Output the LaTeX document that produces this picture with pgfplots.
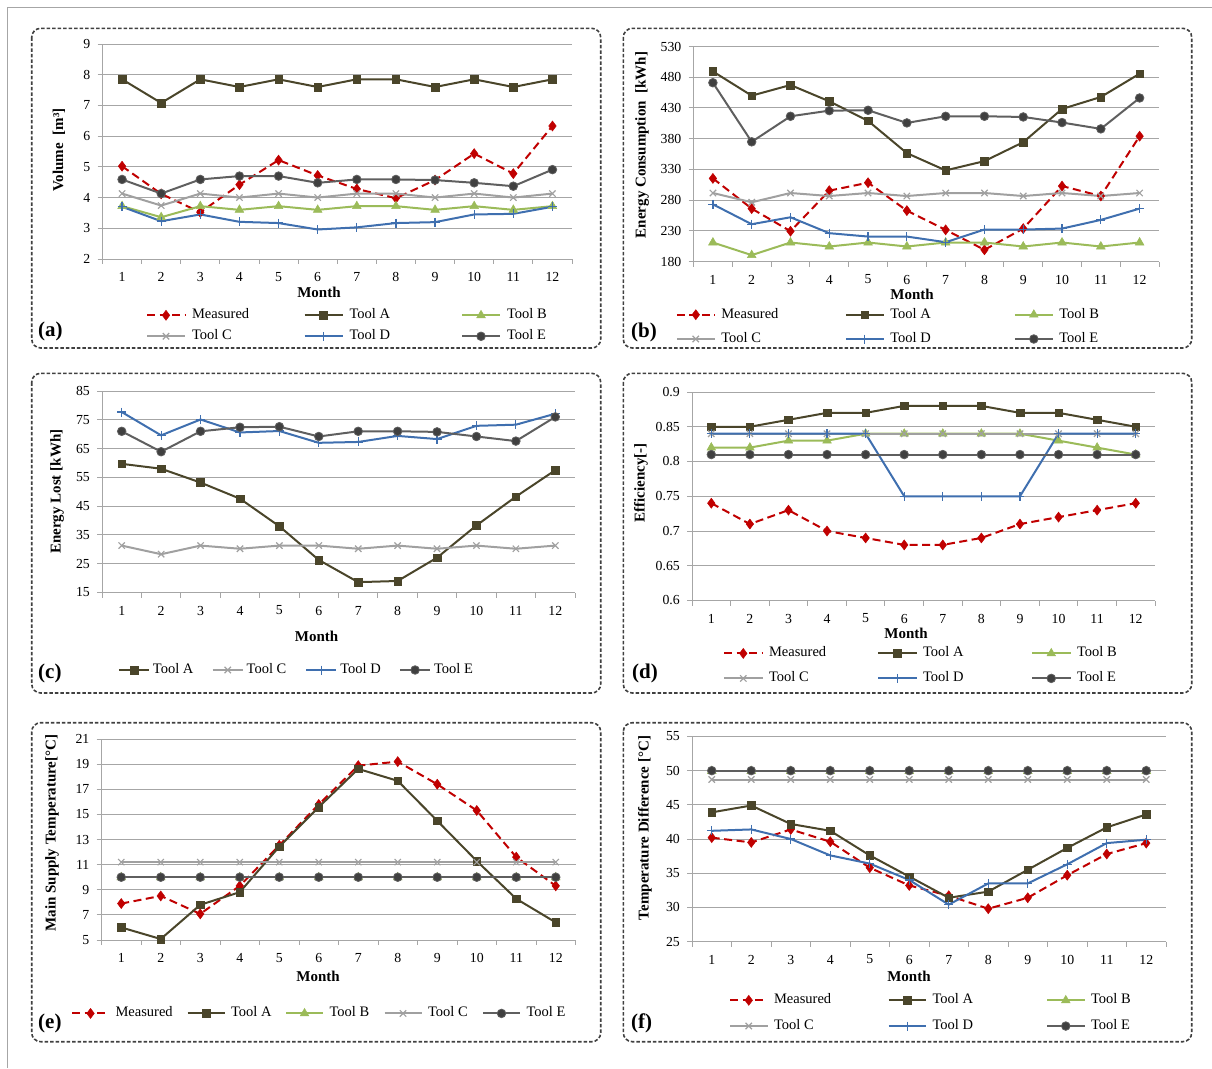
\documentclass[border=0pt]{standalone}
\usepackage{pgfplots}
\pgfplotsset{compat=1.18}
\usepackage{fontspec}
\setmainfont{Liberation Serif}
\definecolor{cMeas}{HTML}{C00000}
\definecolor{cA}{HTML}{4A452A}
\definecolor{cB}{HTML}{9BBB59}
\definecolor{cC}{HTML}{A0A0A0}
\definecolor{cD}{HTML}{3F6FAF}
\definecolor{cE}{HTML}{5F5F5F}
\definecolor{cEf}{HTML}{404040}
\definecolor{gridc}{HTML}{A6A6A6}
\definecolor{framec}{HTML}{404040}
\newcommand{\lb}[2]{\makebox[#1pt][l]{#2}}
\tikzset{
 pframe/.style={draw=framec, line width=1.6pt, dash pattern=on 3.5pt off 2pt, rounded corners=9pt},
 plab/.style={anchor=west, inner sep=0pt, font=\bfseries\fontsize{21}{24}\selectfont},
}
\pgfplotsset{
 meas/.style={color=cMeas, line width=2pt, dash pattern=on 8pt off 4.5pt, mark=diamond*, mark size=5pt, mark options={solid, fill=cMeas, draw=cMeas, line width=0.5pt}},
 toolA/.style={color=cA, line width=2pt, mark=square*, mark size=3.8pt, mark options={solid, fill=cA, draw=cA, line width=0.5pt}},
 toolB/.style={color=cB, line width=2pt, mark=triangle*, mark size=5pt, mark options={solid, fill=cB, draw=cB, line width=0.5pt}},
 toolC/.style={color=cC, line width=2pt, mark=x, mark size=4.5pt, mark options={solid, line width=1.2pt}},
 toolD/.style={color=cD, line width=2pt, mark=+, mark size=4.5pt, mark options={solid, line width=1.2pt}},
 toolE/.style={color=cE, line width=2pt, mark=*, mark size=4.3pt, mark options={solid, fill=cEf, draw=cE, line width=0.8pt}},
 limg/.style={legend image code/.code={\draw[mark repeat=2,mark phase=2,##1] plot coordinates {(0pt,0pt) (#1pt,0pt) (2*#1pt,0pt)};}},
 panel/.style={
  scale only axis, anchor=north west, clip=false,
  xmin=0.5, xmax=12.5, xtick={1,...,12}, minor xtick={0.5,1.5,...,12.5},
  axis x line*=bottom, axis y line*=left,
  axis line style={draw=gridc, line width=0.9pt, -},
  ymajorgrids, grid style={draw=gridc, line width=0.9pt},
  tick align=outside, major tick length=5pt, minor tick length=5pt,
  tick style={draw=gridc, line width=0.9pt},
  major x tick style={draw=none},
  tick label style={font=\fontsize{13.8}{16}\selectfont, text=black},
  xticklabel style={anchor=center, inner sep=0pt, yshift=-13pt},
  yticklabel style={anchor=east, inner sep=0pt, xshift=-7pt},
  /pgf/number format/assume math mode=true,
  xlabel style={anchor=center, inner sep=0pt, font=\bfseries\fontsize{15}{18}\selectfont},
  ylabel style={anchor=center, inner sep=0pt, font=\bfseries\fontsize{15}{18}\selectfont},
  legend style={draw=none, fill=none, inner sep=0pt, outer sep=0pt, anchor=west,
    font=\fontsize{14.5}{17}\selectfont,
    nodes={inner sep=0pt, text height=10pt, text depth=3pt}},
  legend cell align=left,
 },
}
\begin{document}
\begin{tikzpicture}
\path[use as bounding box] (0,0) rectangle (1212pt,-1068pt);
\draw[gridc, line width=1pt] (7pt,-1068pt) -- (7pt,-7pt) -- (1212pt,-7pt);

% (a)
\begin{axis}[panel, at={(102.5pt,-44pt)}, width=469.5pt, height=215pt,
 ymin=2, ymax=9, ytick={2,...,9},
 xlabel={Month}, xlabel style={at={(axis description cs:0.4611,-0.1535)}},
 ylabel={Volume\ \ [m³]}, ylabel style={at={(axis description cs:-0.0927,0.507)}},
 limg=19, legend columns=3,
 legend style={at={(0.0927,-0.3107)}, row sep=8pt, /tikz/every odd column/.append style={column sep=6pt}},
]
\addplot[meas] coordinates {(1,5.02) (2,4.12) (3,3.52) (4,4.42) (5,5.22) (6,4.72) (7,4.28) (8,3.98) (9,4.57) (10,5.43) (11,4.78) (12,6.33)};
\addplot[toolA] coordinates {(1,7.85) (2,7.08) (3,7.85) (4,7.6) (5,7.85) (6,7.6) (7,7.85) (8,7.85) (9,7.6) (10,7.85) (11,7.6) (12,7.85)};
\addplot[toolB] coordinates {(1,3.72) (2,3.36) (3,3.72) (4,3.6) (5,3.72) (6,3.6) (7,3.72) (8,3.72) (9,3.6) (10,3.72) (11,3.6) (12,3.72)};
\addplot[toolC] coordinates {(1,4.13) (2,3.74) (3,4.13) (4,4.0) (5,4.13) (6,4.0) (7,4.13) (8,4.13) (9,4.0) (10,4.13) (11,4.0) (12,4.13)};
\addplot[toolD] coordinates {(1,3.7) (2,3.23) (3,3.45) (4,3.21) (5,3.17) (6,2.96) (7,3.03) (8,3.17) (9,3.2) (10,3.45) (11,3.47) (12,3.7)};
\addplot[toolE] coordinates {(1,4.59) (2,4.13) (3,4.59) (4,4.7) (5,4.7) (6,4.48) (7,4.59) (8,4.59) (9,4.57) (10,4.48) (11,4.37) (12,4.91)};
\legend{\lb{111.5}{Measured},\lb{111.5}{Tool A},\lb{111.5}{Tool B},\lb{111.5}{Tool C},\lb{111.5}{Tool D},\lb{111.5}{Tool E}}
\end{axis}

% (b)
\begin{axis}[panel, at={(693.5pt,-46.5pt)}, width=465.5pt, height=215pt,
 ymin=180, ymax=530, ytick={180,230,...,530},
 xlabel={Month}, xlabel style={at={(axis description cs:0.4694,-0.1512)}},
 ylabel={Energy Consumption\ \ [kWh]}, ylabel style={at={(axis description cs:-0.1106,0.5419)}},
 limg=19, legend columns=3,
 legend style={at={(-0.038,-0.304)}, row sep=11.3pt, /tikz/every odd column/.append style={column sep=5.5pt}},
]
\addplot[meas] coordinates {(1,315.3) (2,266.1) (3,229.3) (4,295.3) (5,308.3) (6,262.8) (7,231.5) (8,199) (9,233.6) (10,302.8) (11,286.6) (12,384)};
\addplot[toolA] coordinates {(1,489.4) (2,450) (3,467.3) (4,440.8) (5,408.9) (6,356.4) (7,328.3) (8,343.4) (9,374.2) (10,428.3) (11,447.8) (12,485.7)};
\addplot[toolB] coordinates {(1,210.9) (2,190.4) (3,210.9) (4,204.4) (5,210.9) (6,204.4) (7,210.9) (8,210.9) (9,204.4) (10,210.9) (11,204.4) (12,210.9)};
\addplot[toolC] coordinates {(1,291.5) (2,276.4) (3,291.5) (4,286.6) (5,291.5) (6,286.6) (7,291.5) (8,291.5) (9,286.6) (10,291.5) (11,286.6) (12,291.5)};
\addplot[toolD] coordinates {(1,273.1) (2,240.7) (3,252) (4,226.1) (5,220.6) (6,220.6) (7,211.4) (8,232) (9,232) (10,233.6) (11,247.7) (12,266.1)};
\addplot[toolE] coordinates {(1,471) (2,374.8) (3,416.4) (4,425.6) (5,426.2) (6,405.6) (7,416.4) (8,416.4) (9,415.3) (10,406.2) (11,395.9) (12,446.2)};
\legend{\lb{123.5}{Measured},\lb{123.5}{Tool A},\lb{123.5}{Tool B},\lb{123.5}{Tool C},\lb{123.5}{Tool D},\lb{123.5}{Tool E}}
\end{axis}

% (c)
\begin{axis}[panel, at={(102pt,-391pt)}, width=473pt, height=201.5pt,
 ymin=15, ymax=85, ytick={15,25,...,85},
 xlabel={Month}, xlabel style={at={(axis description cs:0.4535,-0.2194)}},
 ylabel={Energy Lost [kWh]}, ylabel style={at={(axis description cs:-0.0951,0.5003)}},
 limg=15, legend columns=4,
 legend style={at={(0.0338,-0.3846)}, /tikz/every odd column/.append style={column sep=3pt}},
]
\addplot[toolA] coordinates {(1,59.7) (2,58) (3,53.2) (4,47.6) (5,38) (6,26.3) (7,18.6) (8,19) (9,27.1) (10,38.3) (11,48.3) (12,57.5)};
\addplot[toolC] coordinates {(1,31.3) (2,28.3) (3,31.3) (4,30.2) (5,31.3) (6,31.3) (7,30.2) (8,31.3) (9,30.2) (10,31.3) (11,30.2) (12,31.3)};
\addplot[toolD] coordinates {(1,77.7) (2,69.6) (3,75.1) (4,70.6) (5,71.1) (6,67) (7,67.3) (8,69.4) (9,68.3) (10,72.9) (11,73.3) (12,77.1)};
\addplot[toolE] coordinates {(1,71) (2,63.9) (3,71) (4,72.4) (5,72.6) (6,69.2) (7,71) (8,71) (9,70.8) (10,69.2) (11,67.6) (12,76)};
\legend{\lb{58.7}{Tool A},\lb{58.7}{Tool C},\lb{58.7}{Tool D},\lb{58.7}{Tool E}}
\end{axis}

% (d)
\begin{axis}[panel, at={(692pt,-392pt)}, width=463pt, height=208.5pt,
 ymin=0.6, ymax=0.9, ytick={0.6,0.65,0.7,0.75,0.8,0.85,0.9},
 yticklabels={0.6,0.65,0.7,0.75,0.8,0.85,0.9},
 xlabel={Month}, xlabel style={at={(axis description cs:0.4622,-0.1559)}},
 ylabel={Efficiency[-]}, ylabel style={at={(axis description cs:-0.1102,0.5635)}},
 limg=19.25, legend columns=3,
 legend style={at={(0.067,-0.3137)}, row sep=12pt, /tikz/every odd column/.append style={column sep=5.5pt}},
]
\addplot[meas] coordinates {(1,0.74) (2,0.71) (3,0.73) (4,0.70) (5,0.69) (6,0.68) (7,0.68) (8,0.69) (9,0.71) (10,0.72) (11,0.73) (12,0.74)};
\addplot[toolA] coordinates {(1,0.85) (2,0.85) (3,0.86) (4,0.87) (5,0.87) (6,0.88) (7,0.88) (8,0.88) (9,0.87) (10,0.87) (11,0.86) (12,0.85)};
\addplot[toolB] coordinates {(1,0.82) (2,0.82) (3,0.83) (4,0.83) (5,0.84) (6,0.84) (7,0.84) (8,0.84) (9,0.84) (10,0.83) (11,0.82) (12,0.81)};
\addplot[toolC] coordinates {(1,0.84) (2,0.84) (3,0.84) (4,0.84) (5,0.84) (6,0.84) (7,0.84) (8,0.84) (9,0.84) (10,0.84) (11,0.84) (12,0.84)};
\addplot[toolD] coordinates {(1,0.84) (2,0.84) (3,0.84) (4,0.84) (5,0.84) (6,0.75) (7,0.75) (8,0.75) (9,0.75) (10,0.84) (11,0.84) (12,0.84)};
\addplot[toolE] coordinates {(1,0.81) (2,0.81) (3,0.81) (4,0.81) (5,0.81) (6,0.81) (7,0.81) (8,0.81) (9,0.81) (10,0.81) (11,0.81) (12,0.81)};
\legend{\lb{108}{Measured},\lb{108}{Tool A},\lb{108}{Tool B},\lb{108}{Tool C},\lb{108}{Tool D},\lb{108}{Tool E}}
\end{axis}

% (e)
\begin{axis}[panel, at={(101.5pt,-739pt)}, width=474pt, height=201pt,
 ymin=5, ymax=21, ytick={5,7,...,21},
 xlabel={Month}, xlabel style={at={(axis description cs:0.4568,-0.1826)}},
 ylabel={Main Supply Temperature[°C]}, ylabel style={at={(axis description cs:-0.1044,0.5323)}},
 limg=18.5, legend columns=5,
 legend style={at={(-0.0643,-0.3652)}, /tikz/every odd column/.append style={column sep=5.5pt}},
]
\addplot[meas] coordinates {(1,7.9) (2,8.51) (3,7.08) (4,9.31) (5,12.54) (6,15.79) (7,18.88) (8,19.2) (9,17.4) (10,15.31) (11,11.6) (12,9.31)};
\addplot[toolA] coordinates {(1,6.0) (2,5.08) (3,7.8) (4,8.81) (5,12.43) (6,15.58) (7,18.62) (8,17.67) (9,14.49) (10,11.29) (11,8.28) (12,6.4)};
\addplot[toolB] coordinates {(1,9.99) (2,9.99) (3,9.99) (4,9.99) (5,9.99) (6,9.99) (7,9.99) (8,9.99) (9,9.99) (10,9.99) (11,9.99) (12,9.99)};
\addplot[toolC] coordinates {(1,11.2) (2,11.2) (3,11.2) (4,11.2) (5,11.2) (6,11.2) (7,11.2) (8,11.2) (9,11.2) (10,11.2) (11,11.2) (12,11.2)};
\addplot[toolE] coordinates {(1,10) (2,10) (3,10) (4,10) (5,10) (6,10) (7,10) (8,10) (9,10) (10,10) (11,10) (12,10)};
\legend{\lb{71}{Measured},\lb{54}{Tool A},\lb{54}{Tool B},\lb{54}{Tool C},Tool E}
\end{axis}

% (f)
\begin{axis}[panel, at={(692pt,-736.5pt)}, width=474pt, height=205pt,
 ymin=25, ymax=55, ytick={25,30,...,55},
 xlabel={Month}, xlabel style={at={(axis description cs:0.4578,-0.1683)}},
 ylabel={Temperature Difference [°C]}, ylabel style={at={(axis description cs:-0.0992,0.5537)}},
 limg=18.75, legend columns=3,
 legend style={at={(0.0781,-0.3498)}, row sep=12.7pt, /tikz/every odd column/.append style={column sep=5.5pt}},
]
\addplot[meas] coordinates {(1,40.2) (2,39.5) (3,41.4) (4,39.6) (5,35.8) (6,33.2) (7,31.7) (8,29.8) (9,31.4) (10,34.7) (11,37.8) (12,39.4)};
\addplot[toolA] coordinates {(1,43.9) (2,44.9) (3,42.2) (4,41.2) (5,37.6) (6,34.5) (7,31.4) (8,32.3) (9,35.5) (10,38.7) (11,41.7) (12,43.6)};
\addplot[toolB] coordinates {(1,49.95) (2,49.95) (3,49.95) (4,49.95) (5,49.95) (6,49.95) (7,49.95) (8,49.95) (9,49.95) (10,49.95) (11,49.95) (12,49.95)};
\addplot[toolC] coordinates {(1,48.7) (2,48.7) (3,48.7) (4,48.7) (5,48.7) (6,48.7) (7,48.7) (8,48.7) (9,48.7) (10,48.7) (11,48.7) (12,48.7)};
\addplot[toolD] coordinates {(1,41.2) (2,41.4) (3,40.0) (4,37.6) (5,36.4) (6,34.0) (7,30.4) (8,33.5) (9,33.5) (10,36.3) (11,39.4) (12,39.9)};
\addplot[toolE] coordinates {(1,50) (2,50) (3,50) (4,50) (5,50) (6,50) (7,50) (8,50) (9,50) (10,50) (11,50) (12,50)};
\legend{\lb{113.5}{Measured},\lb{113.5}{Tool A},\lb{113.5}{Tool B},\lb{113.5}{Tool C},\lb{113.5}{Tool D},\lb{113.5}{Tool E}}
\end{axis}

% frames and panel labels
\draw[pframe] (31.7pt,-28.3pt) rectangle (600.7pt,-348pt);
\draw[pframe] (623.3pt,-28.3pt) rectangle (1191.7pt,-348pt);
\draw[pframe] (31.7pt,-373.3pt) rectangle (600.7pt,-693pt);
\draw[pframe] (623.3pt,-373.3pt) rectangle (1191.7pt,-693pt);
\draw[pframe] (31.7pt,-722.7pt) rectangle (600.7pt,-1041.7pt);
\draw[pframe] (623.3pt,-722.7pt) rectangle (1191.7pt,-1041.7pt);
\node[plab] at (38pt,-331pt) {(a)};
\node[plab] at (631pt,-332pt) {(b)};
\node[plab] at (38pt,-673pt) {(c)};
\node[plab] at (632pt,-673pt) {(d)};
\node[plab] at (38pt,-1023pt) {(e)};
\node[plab] at (631pt,-1023pt) {(f)};
\end{tikzpicture}
\end{document}
